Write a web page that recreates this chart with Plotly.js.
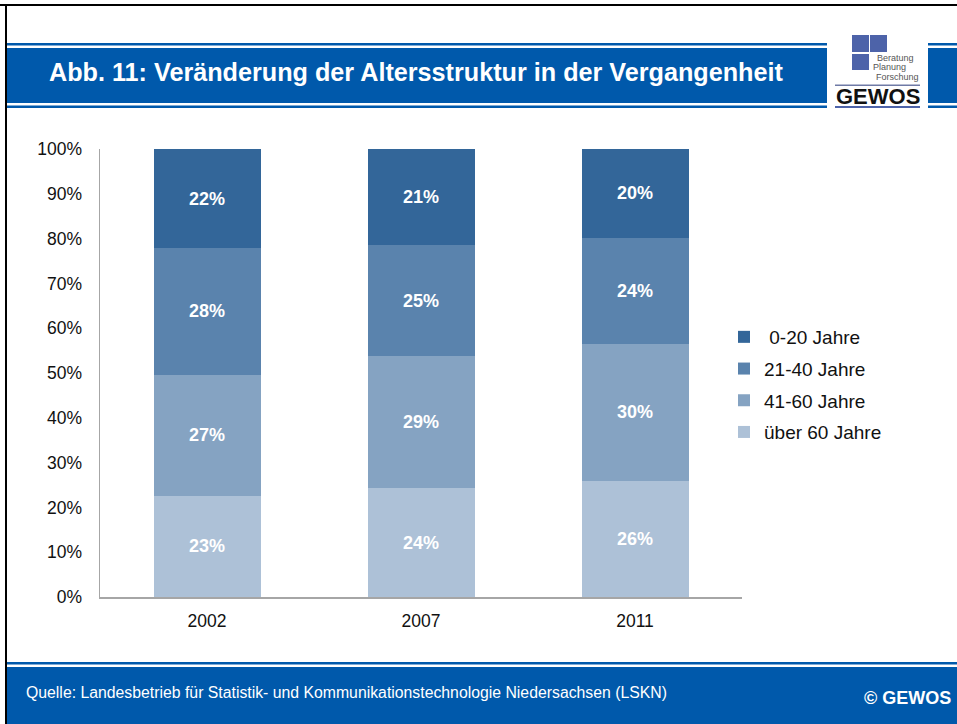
<!DOCTYPE html>
<html>
<head>
<meta charset="utf-8">
<script src="https://cdn.plot.ly/plotly-3.0.1.min.js"></script>
<style>
  html, body { margin: 0; padding: 0; background: #fff; }
  #chart { width: 957px; height: 724px; }
</style>
</head>
<body>
<div id="chart"></div>
<script>
// Altersstruktur, Anteile in Prozent
const years = ['2002', '2007', '2011'];
const ueber60 = [22.6, 24.3, 26.0];
const age41_60 = [27.0, 29.4, 30.4];
const age21_40 = [28.3, 24.9, 23.8];
const age0_20 = [22.1, 21.4, 19.8];

const seriesNames = ['über 60 Jahre', '41-60 Jahre', '21-40 Jahre', ' 0-20 Jahre'];
const seriesColors = ['#adc1d7', '#85a3c2', '#5a83ad', '#336699'];
const seriesValues = [ueber60, age41_60, age21_40, age0_20];

const yTicks = [0, 10, 20, 30, 40, 50, 60, 70, 80, 90, 100];

const W = 957, H = 724;
const px = x => x / W;
const py = y => 1 - y / H;
const blue = '#0059ab';
const logoBlue = '#4d63a9';

const traces = seriesValues.map((vals, i) => ({
  type: 'bar',
  name: seriesNames[i],
  x: years,
  y: vals,
  legendgroup: 'g' + i,
  legendrank: seriesValues.length - i,   // 0-20 oben in der Legende
  marker: { color: seriesColors[i], line: { width: 0 } },
  texttemplate: '%{y:.0f}%',
  textposition: 'inside',
  insidetextanchor: 'middle',
  textfont: { family: 'Liberation Sans, Arial', size: 18, color: '#ffffff', weight: 'bold' },
  hoverinfo: 'skip'
}));

function rect(x0, y0, x1, y1, color) {
  return { type: 'rect', xref: 'paper', yref: 'paper', x0: px(x0), x1: px(x1), y0: py(y0), y1: py(y1),
           fillcolor: color, line: { width: 0 } };
}

const shapes = [
  // Rahmen
  rect(0, 4, W, 6, '#000000'),
  rect(5, 4, 7, H, '#000000'),
  // Kopfbalken
  rect(7, 43, 827, 45.5, blue),
  rect(7, 48, 827, 103, blue),
  rect(7, 105.5, 827, 108, blue),
  rect(928, 43, W, 45.5, blue),
  rect(928, 48, W, 103, blue),
  rect(928, 105.5, W, 108, blue),
  // Logo
  rect(852, 35, 869, 52, logoBlue),
  rect(870, 35, 887, 52, logoBlue),
  rect(852, 54, 869, 70, logoBlue),
  rect(835, 84.5, 920, 86, '#6f7aa6'),
  rect(835, 106, 920, 108, logoBlue),
  // Fußbalken
  rect(7, 662, W, 664.5, blue),
  rect(7, 667, W, H, blue)
];

const annotations = [
  { text: 'Abb. 11: Veränderung der Altersstruktur in der Vergangenheit', x: px(47), y: py(72),
    xanchor: 'left', yanchor: 'middle', font: { size: 25.2, color: '#ffffff', weight: 'bold' } },
  { text: 'Beratung', x: px(895.5), y: py(57.5), xanchor: 'center', yanchor: 'middle', font: { size: 9, color: '#555555' } },
  { text: 'Planung', x: px(889), y: py(67.5), xanchor: 'center', yanchor: 'middle', font: { size: 9, color: '#555555' } },
  { text: 'Forschung', x: px(897), y: py(77.5), xanchor: 'center', yanchor: 'middle', font: { size: 9, color: '#555555' } },
  { text: 'GEWOS', x: px(877.5), y: py(97), xanchor: 'center', yanchor: 'middle',
    font: { size: 22, color: '#111111', weight: 'bold' } },
  { text: 'Quelle: Landesbetrieb für Statistik- und Kommunikationstechnologie Niedersachsen (LSKN)',
    x: px(24), y: py(692), xanchor: 'left', yanchor: 'middle', font: { size: 15.8, color: '#ffffff' } },
  { text: '© GEWOS', x: px(953), y: py(698), xanchor: 'right', yanchor: 'middle',
    font: { size: 18, color: '#ffffff', weight: 'bold' } }
].map(a => Object.assign({ xref: 'paper', yref: 'paper', showarrow: false }, a));

const layout = {
  width: W,
  height: H,
  margin: { l: 0, r: 0, t: 0, b: 0 },
  paper_bgcolor: '#ffffff',
  plot_bgcolor: '#ffffff',
  font: { family: 'Liberation Sans, Arial, sans-serif', color: '#111111' },
  barmode: 'stack',
  bargap: 0.5,
  xaxis: {
    domain: [px(100), px(742)],
    type: 'category',
    showline: true,
    linecolor: '#a6a6a6',
    linewidth: 1.5,
    ticks: '',
    ticklabelstandoff: 7,
    tickfont: { size: 17.5 },
    showgrid: false,
    fixedrange: true
  },
  yaxis: {
    domain: [py(597), py(149)],
    range: [0, 100],
    tickvals: yTicks,
    ticktext: yTicks.map(v => v + '%'),
    showline: true,
    linecolor: '#a6a6a6',
    linewidth: 1.5,
    ticks: '',
    ticklabelstandoff: 13,
    tickfont: { size: 17.5 },
    showgrid: false,
    zeroline: false,
    fixedrange: true
  },
  showlegend: true,
  legend: {
    x: px(724),
    y: py(318),
    xanchor: 'left',
    yanchor: 'top',
    traceorder: 'grouped',
    tracegroupgap: 4,
    font: { size: 19, color: '#111111' },
    itemwidth: 30,
    bgcolor: 'rgba(0,0,0,0)'
  },
  shapes: shapes,
  annotations: annotations
};

Plotly.newPlot('chart', traces, layout, { displayModeBar: false, staticPlot: true });
</script>
</body>
</html>
